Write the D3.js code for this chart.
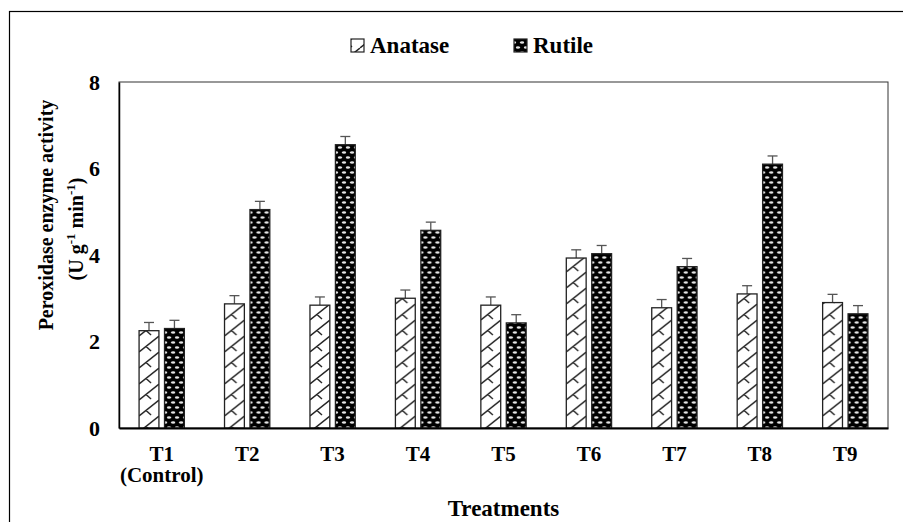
<!DOCTYPE html>
<html>
<head>
<meta charset="utf-8">
<script src="https://cdn.jsdelivr.net/npm/d3@7"></script>
<style>
  body { margin: 0; background: #fff; }
  svg { display: block; }
  text { font-family: "Liberation Serif", "Times New Roman", serif; font-weight: bold; fill: #000; }
</style>
</head>
<body>
<svg id="chart" width="903" height="522"></svg>
<script>
const categories = ["T1", "T2", "T3", "T4", "T5", "T6", "T7", "T8", "T9"];
const categorySub = ["(Control)", "", "", "", "", "", "", "", ""];
const seriesNames = ["Anatase", "Rutile"];
const anatase = [2.25, 2.87, 2.84, 3.00, 2.84, 3.93, 2.78, 3.10, 2.90];
const rutile  = [2.30, 5.05, 6.55, 4.57, 2.43, 4.03, 3.73, 6.10, 2.64];
const anataseErr = [0.19, 0.19, 0.19, 0.19, 0.19, 0.19, 0.19, 0.19, 0.19];
const rutileErr  = [0.19, 0.19, 0.19, 0.19, 0.19, 0.19, 0.19, 0.19, 0.19];
const yTicks = [0, 2, 4, 6, 8];

const svg = d3.select("#chart");
const defs = svg.append("defs");

// Anatase pattern: white with diagonal zigzag hatch
const pa = defs.append("pattern").attr("id", "patA").attr("patternUnits", "userSpaceOnUse")
  .attr("width", 20).attr("height", 16);
pa.append("rect").attr("width", 20).attr("height", 16).attr("fill", "#fff");
pa.append("path").attr("d", "M0,16 L20,0 M-20,16 L0,0 M20,16 L40,0 M7,10.4 L12,15 M-13,10.4 L-8,15 M27,10.4 L32,15 M7,-5.6 L12,-1")
  .attr("stroke", "#222").attr("stroke-width", 1.4).attr("fill", "none");

// Rutile pattern: black with light dots
const pr = defs.append("pattern").attr("id", "patR").attr("patternUnits", "userSpaceOnUse")
  .attr("width", 8).attr("height", 10);
pr.append("rect").attr("width", 8).attr("height", 10).attr("fill", "#000");
pr.append("ellipse").attr("cx", 2).attr("cy", 2.5).attr("rx", 2.2).attr("ry", 1.2).attr("fill", "#e4e4e4");
pr.append("ellipse").attr("cx", 6).attr("cy", 7.5).attr("rx", 2.2).attr("ry", 1.2).attr("fill", "#e4e4e4");
pr.append("ellipse").attr("cx", -2).attr("cy", 7.5).attr("rx", 2.2).attr("ry", 1.2).attr("fill", "#e4e4e4");
pr.append("ellipse").attr("cx", 10).attr("cy", 2.5).attr("rx", 2.2).attr("ry", 1.2).attr("fill", "#e4e4e4");

const fills = { Anatase: "url(#patA)", Rutile: "url(#patR)" };

// outer frame
svg.append("rect").attr("x", 9.5).attr("y", 11.5).attr("width", 905).attr("height", 520)
  .attr("fill", "none").attr("stroke", "#000").attr("stroke-width", 1.2);

const pLeft = 119, pRight = 888, pTop = 82, pBottom = 428;

const x0 = d3.scaleBand().domain(categories).range([pLeft, pRight])
  .paddingInner(0.47).paddingOuter(0.235);
const x1 = d3.scaleBand().domain(seriesNames).range([0, x0.bandwidth()]).paddingInner(0.22);
const y = d3.scaleLinear().domain([0, 8]).range([pBottom, pTop]);

// plot frame
svg.append("rect").attr("x", pLeft).attr("y", pTop).attr("width", pRight - pLeft).attr("height", pBottom - pTop)
  .attr("fill", "none").attr("stroke", "#333").attr("stroke-width", 1);

const data = categories.map((c, i) => ({
  cat: c,
  vals: [
    { s: "Anatase", v: anatase[i], e: anataseErr[i] },
    { s: "Rutile", v: rutile[i], e: rutileErr[i] }
  ]
}));

const g = svg.append("g");
const groups = g.selectAll("g.grp").data(data).join("g")
  .attr("transform", d => `translate(${x0(d.cat)},0)`);

// error bars
groups.selectAll("g.err").data(d => d.vals).join("g").each(function(d) {
  const cx = x1(d.s) + x1.bandwidth() / 2;
  const sel = d3.select(this);
  sel.append("line").attr("x1", cx).attr("x2", cx).attr("y1", y(d.v)).attr("y2", y(d.v + d.e))
    .attr("stroke", "#555").attr("stroke-width", 1.3);
  sel.append("line").attr("x1", cx - 5).attr("x2", cx + 5).attr("y1", y(d.v + d.e)).attr("y2", y(d.v + d.e))
    .attr("stroke", "#555").attr("stroke-width", 1.3);
});

groups.selectAll("rect").data(d => d.vals).join("rect")
  .attr("x", d => x1(d.s))
  .attr("width", x1.bandwidth())
  .attr("y", d => y(d.v))
  .attr("height", d => y(0) - y(d.v))
  .attr("fill", d => fills[d.s])
  .attr("stroke", "#222").attr("stroke-width", 1.3);

// y axis
const yAxis = d3.axisLeft(y).tickValues(yTicks).tickSize(0).tickPadding(19).tickFormat(d3.format("d"));
const ya = svg.append("g").attr("transform", `translate(${pLeft},0)`).call(yAxis);
ya.select(".domain").attr("stroke", "#000").attr("stroke-width", 1.5);
ya.selectAll("text").style("font-size", "22px").style("font-family", "Liberation Serif").style("font-weight", "bold");

// x axis
const xAxis = d3.axisBottom(x0).tickSize(0);
const xa = svg.append("g").attr("transform", `translate(0,${pBottom})`).call(xAxis);
xa.select(".domain").attr("stroke", "#000").attr("stroke-width", 2);
xa.selectAll("text").attr("y", 33).attr("dy", 0)
  .style("font-size", "21px").style("font-family", "Liberation Serif").style("font-weight", "bold");
xa.selectAll(".tick").each(function(d, i) {
  if (categorySub[i]) {
    d3.select(this).append("text").attr("y", 54).attr("text-anchor", "middle")
      .style("font-size", "21px").style("font-family", "Liberation Serif").style("font-weight", "bold")
      .text(categorySub[i]);
  }
});

// x title
svg.append("text").attr("x", (pLeft + pRight) / 2).attr("y", 516).attr("text-anchor", "middle")
  .style("font-size", "23px").text("Treatments");

// y title
const yt = svg.append("g");
yt.append("text").attr("transform", "translate(53,215) rotate(-90)").attr("text-anchor", "middle")
  .style("font-size", "20px").text("Peroxidase enzyme activity");
const t2 = yt.append("text").attr("transform", "translate(83,229) rotate(-90)").attr("text-anchor", "middle")
  .style("font-size", "20px");
t2.append("tspan").text("(U g");
t2.append("tspan").attr("dy", -8).style("font-size", "13px").text("-1");
t2.append("tspan").attr("dy", 8).text(" min");
t2.append("tspan").attr("dy", -8).style("font-size", "13px").text("-1");
t2.append("tspan").attr("dy", 8).text(")");

// legend
const legendItems = [
  { s: "Anatase", x: 351 },
  { s: "Rutile", x: 514 }
];
const lg = svg.append("g");
legendItems.forEach(it => {
  lg.append("rect").attr("x", it.x).attr("y", 39).attr("width", 13).attr("height", 13)
    .attr("fill", fills[it.s]).attr("stroke", "#222").attr("stroke-width", 1.2);
  lg.append("text").attr("x", it.x + 19).attr("y", 53).style("font-size", "23px").text(it.s);
});
</script>
</body>
</html>
